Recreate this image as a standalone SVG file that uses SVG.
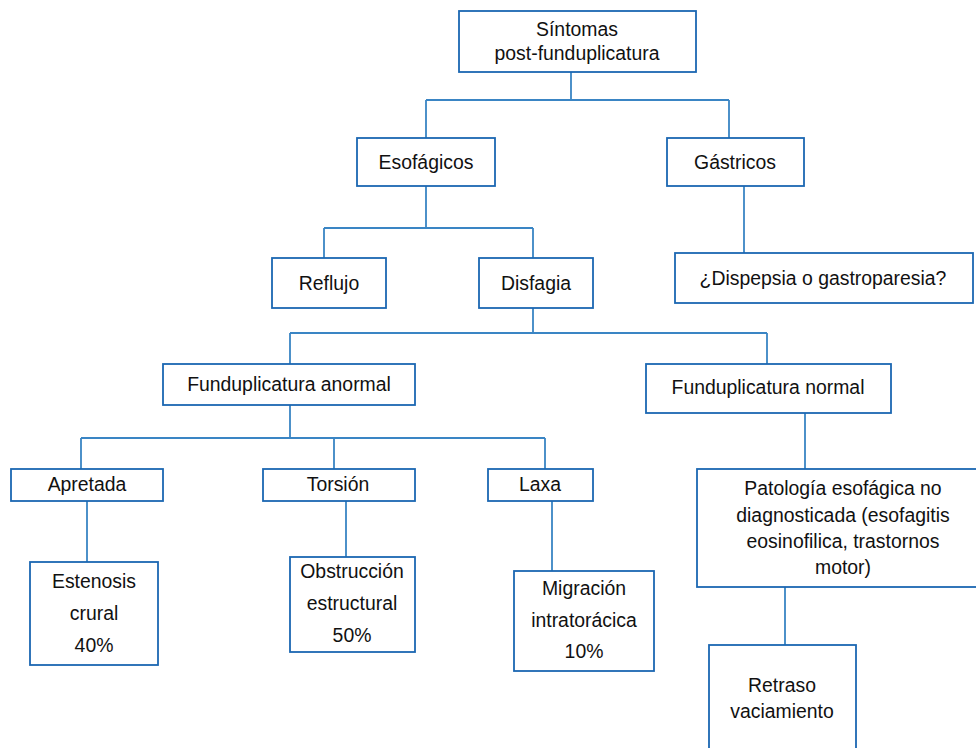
<svg xmlns="http://www.w3.org/2000/svg" width="976" height="748" viewBox="0 0 976 748">
<style>
.box{fill:#ffffff;stroke:#1b67b2;stroke-width:1.8}
.lbl{font-family:"Liberation Sans",Arial,Helvetica,sans-serif;font-size:19.4px;fill:#111111;text-anchor:middle}
.con{fill:none;stroke:#3a85c4;stroke-width:1.8}
</style>
<rect width="976" height="748" fill="#ffffff"/>
<g id="connectors">
<path class="con" d="M571,72V100M426,100H729M426,100V138M729,100V138"/>
<path class="con" d="M426,186V228M324,228H533M324,228V258M533,228V258"/>
<path class="con" d="M744,186V253"/>
<path class="con" d="M533,308V333M290,333H767M290,333V364M767,333V364"/>
<path class="con" d="M290,405V438M81,438H545M81,438V469M334,438V469M545,438V469"/>
<path class="con" d="M87,501V562M346,501V557M552,501V571"/>
<path class="con" d="M805,413V469M785,587V645"/>
</g>
<g id="sintomas"><rect class="box" x="459" y="11" width="237" height="61"/><text class="lbl" x="577" y="36">Síntomas</text><text class="lbl" x="577" y="60">post-funduplicatura</text></g>
<g id="esofagicos"><rect class="box" x="357" y="138" width="138" height="48"/><text class="lbl" x="426" y="169">Esofágicos</text></g>
<g id="gastricos"><rect class="box" x="667" y="138" width="137" height="48"/><text class="lbl" x="735" y="169">Gástricos</text></g>
<g id="reflujo"><rect class="box" x="272" y="258" width="114" height="50"/><text class="lbl" x="329" y="290">Reflujo</text></g>
<g id="disfagia"><rect class="box" x="479" y="258" width="114" height="50"/><text class="lbl" x="536" y="290">Disfagia</text></g>
<g id="dispepsia"><rect class="box" x="675" y="253" width="298" height="50"/><text class="lbl" x="823" y="285">¿Dispepsia o gastroparesia?</text></g>
<g id="fund-anormal"><rect class="box" x="163" y="364" width="252" height="41"/><text class="lbl" x="289" y="391">Funduplicatura anormal</text></g>
<g id="fund-normal"><rect class="box" x="646" y="364" width="245" height="49"/><text class="lbl" x="768" y="394">Funduplicatura normal</text></g>
<g id="apretada"><rect class="box" x="11" y="469" width="152" height="32"/><text class="lbl" x="87" y="491">Apretada</text></g>
<g id="torsion"><rect class="box" x="263" y="469" width="152" height="32"/><text class="lbl" x="338" y="491">Torsión</text></g>
<g id="laxa"><rect class="box" x="488" y="469" width="105" height="32"/><text class="lbl" x="540" y="491">Laxa</text></g>
<g id="estenosis"><rect class="box" x="30" y="562" width="128" height="103"/><text class="lbl" x="94" y="588">Estenosis</text><text class="lbl" x="94" y="620">crural</text><text class="lbl" x="94" y="652">40%</text></g>
<g id="obstruccion"><rect class="box" x="290" y="557" width="125" height="95"/><text class="lbl" x="352" y="578">Obstrucción</text><text class="lbl" x="352" y="610">estructural</text><text class="lbl" x="352" y="642">50%</text></g>
<g id="migracion"><rect class="box" x="514" y="571" width="140" height="100"/><text class="lbl" x="584" y="595">Migración</text><text class="lbl" x="584" y="627">intratorácica</text><text class="lbl" x="584" y="658">10%</text></g>
<g id="patologia"><rect class="box" x="697" y="469" width="300" height="118"/><text class="lbl" x="843" y="495">Patología esofágica no</text><text class="lbl" x="843" y="522">diagnosticada (esofagitis</text><text class="lbl" x="843" y="548">eosinofilica, trastornos</text><text class="lbl" x="843" y="574">motor)</text></g>
<g id="retraso"><rect class="box" x="709" y="645" width="147" height="120"/><text class="lbl" x="782" y="692">Retraso</text><text class="lbl" x="782" y="718">vaciamiento</text></g>
</svg>
